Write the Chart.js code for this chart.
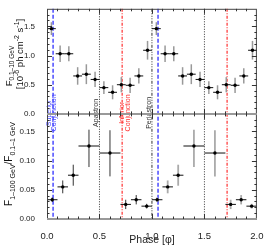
<!DOCTYPE html>
<html>
<head>
<meta charset="utf-8">
<script src="https://cdn.jsdelivr.net/npm/chart.js@4.4.1/dist/chart.umd.min.js"></script>
<style>
  html, body { margin: 0; padding: 0; background: #fff; }
</style>
</head>
<body>
<canvas id="phaseChart" width="267" height="246"></canvas>
<script>
// 0.1-10 GeV flux, 12 orbital phase bins (one cycle, drawn twice)
const fluxPhase = [0.042, 0.125, 0.208, 0.292, 0.375, 0.458, 0.542, 0.625, 0.708, 0.792, 0.875, 0.958];
const fluxHalfWidth = [0.042, 0.042, 0.042, 0.042, 0.042, 0.042, 0.042, 0.042, 0.042, 0.042, 0.042, 0.042];
const fluxValue = [1.46, 1.03, 1.03, 0.65, 0.68, 0.59, 0.45, 0.37, 0.50, 0.49, 0.65, 1.09];
const fluxErr = [0.11, 0.14, 0.13, 0.15, 0.17, 0.13, 0.11, 0.12, 0.13, 0.13, 0.13, 0.16];

// F(1-100 GeV) / F(0.1-1 GeV)
const ratioPhase = [0.05, 0.15, 0.25, 0.40, 0.60, 0.75, 0.85, 0.95];
const ratioHalfWidth = [0.05, 0.05, 0.05, 0.10, 0.10, 0.05, 0.05, 0.05];
const ratioValue = [0.033, 0.055, 0.075, 0.125, 0.113, 0.025, 0.033, 0.022];
const ratioErrLow = [0.004, 0.011, 0.018, 0.036, 0.040, 0.008, 0.008, 0.004];
const ratioErrHigh = [0.004, 0.011, 0.018, 0.028, 0.039, 0.008, 0.008, 0.004];

// orbital markers
const markerPhase = [0.058, 0.5, 0.716, 1.0, 1.058, 1.5, 1.716];
const markerKind = ['sup', 'apa', 'inf', 'peri', 'sup', 'apa', 'inf'];
const markerLabel = {
    sup: ['Superior', 'Conjunction'],
    apa: ['Apastron'],
    inf: ['Inferior', 'Conjunction'],
    peri: ['Periastron']
};

const FONT = "'Liberation Sans', Arial, sans-serif";

const lineStyle = {
    sup: { color: '#4a4aff', width: 1.5, dash: [4, 2], off: [-2.3, 3.2] },
    apa: { color: '#333', width: 1, dash: [1, 1.5], off: [-1] },
    inf: { color: '#ff3030', width: 1.2, dash: [3, 1.5, 1, 1.5], off: [2, 7.5] },
    peri: { color: '#333', width: 1, dash: [3, 1.5, 1, 1.5, 1, 1.5, 1, 1.5], off: [-1] }
};

const fluxPoints = [];
const ratioPoints = [];
for (let c = 0; c < 2; c++) {
    for (let i = 0; i < fluxPhase.length; i++) fluxPoints.push({ x: fluxPhase[i] + c, y: fluxValue[i] });
    for (let i = 0; i < ratioPhase.length; i++) ratioPoints.push({ x: ratioPhase[i] + c, y: ratioValue[i] });
}

function richText(ctx, parts, bx, cy, color) {
    ctx.save();
    ctx.translate(bx, cy);
    ctx.rotate(-Math.PI / 2);
    ctx.fillStyle = color;
    ctx.textAlign = 'left';
    ctx.textBaseline = 'alphabetic';
    let total = 0;
    parts.forEach(p => {
        ctx.font = p.size + 'px ' + FONT;
        p.w = ctx.measureText(p.t).width;
        total += p.w;
    });
    let x = -total / 2;
    parts.forEach(p => {
        ctx.font = p.size + 'px ' + FONT;
        ctx.fillText(p.t, x, p.dy || 0);
        x += p.w;
    });
    ctx.restore();
}

function line(ctx, x1, y1, x2, y2) {
    ctx.beginPath();
    ctx.moveTo(x1, y1);
    ctx.lineTo(x2, y2);
    ctx.stroke();
}

const panelPlugin = {
    id: 'panels',
    beforeDatasetsDraw(chart) {
        const { ctx, chartArea: a, scales: { x, yTop, yBot } } = chart;
        ctx.save();

        // phase markers across both panels
        markerPhase.forEach((p, i) => {
            const st = lineStyle[markerKind[i]];
            const px = x.getPixelForValue(p);
            ctx.strokeStyle = st.color;
            ctx.lineWidth = st.width;
            ctx.setLineDash(st.dash);
            line(ctx, px, a.top, px, a.bottom);
        });
        ctx.setLineDash([]);

        // marker labels (first occurrence of each kind)
        const seen = {};
        markerPhase.forEach((p, i) => {
            const k = markerKind[i];
            if (seen[k]) return;
            seen[k] = true;
            const st = lineStyle[k];
            const px = x.getPixelForValue(p);
            markerLabel[k].forEach((txt, j) => {
                richText(ctx, [{ t: txt, size: 7 }], px + st.off[j], yTop.bottom - 1, st.color);
            });
        });

        // error bars
        for (let c = 0; c < 2; c++) {
            for (let i = 0; i < fluxPhase.length; i++) {
                const px = x.getPixelForValue(fluxPhase[i] + c);
                const py = yTop.getPixelForValue(fluxValue[i]);
                ctx.strokeStyle = '#999';
                ctx.lineWidth = 1.5;
                line(ctx, px, yTop.getPixelForValue(fluxValue[i] - fluxErr[i]), px, yTop.getPixelForValue(fluxValue[i] + fluxErr[i]));
                ctx.strokeStyle = '#111';
                ctx.lineWidth = 1;
                line(ctx, x.getPixelForValue(fluxPhase[i] - fluxHalfWidth[i] + c), py, x.getPixelForValue(fluxPhase[i] + fluxHalfWidth[i] + c), py);
            }
            for (let i = 0; i < ratioPhase.length; i++) {
                const px = x.getPixelForValue(ratioPhase[i] + c);
                const py = yBot.getPixelForValue(ratioValue[i]);
                ctx.strokeStyle = c === 0 ? '#333' : '#aaa';
                ctx.lineWidth = c === 0 ? 1 : 1.8;
                line(ctx, px, yBot.getPixelForValue(ratioValue[i] - ratioErrLow[i]), px, yBot.getPixelForValue(ratioValue[i] + ratioErrHigh[i]));
                ctx.strokeStyle = '#111';
                ctx.lineWidth = 1;
                line(ctx, x.getPixelForValue(ratioPhase[i] - ratioHalfWidth[i] + c), py, x.getPixelForValue(ratioPhase[i] + ratioHalfWidth[i] + c), py);
            }
        }
        ctx.restore();
    },
    afterDatasetsDraw(chart) {
        const { ctx, chartArea: a, scales: { x, yTop, yBot } } = chart;
        ctx.save();

        // frame
        ctx.strokeStyle = '#444';
        ctx.lineWidth = 1;
        ctx.strokeRect(a.left + 0.5, a.top + 0.5, a.right - a.left - 1, a.bottom - a.top);

        // zero lines
        ctx.strokeStyle = '#999';
        ctx.lineWidth = 2;
        line(ctx, a.left, yTop.getPixelForValue(0), a.right, yTop.getPixelForValue(0));
        line(ctx, a.left, yBot.getPixelForValue(0), a.right, yBot.getPixelForValue(0));

        // inward ticks
        ctx.strokeStyle = '#333';
        ctx.lineWidth = 1;
        const edges = [[yTop.top, 1], [yTop.bottom, -1], [yBot.top, 1], [yBot.bottom, -1]];
        for (let k = 1; k < 20; k++) {
            const px = Math.round(x.getPixelForValue(k / 10)) + 0.5;
            const len = k % 5 === 0 ? 5 : 2.5;
            edges.forEach(([ey, d]) => line(ctx, px, ey, px, ey + d * len));
        }
        const yAxes = [[yTop, 0.1, 5, 1.8], [yBot, 0.01, 5, 0.18]];
        yAxes.forEach(([s, step, every, max]) => {
            for (let k = 1; k * step < max - 1e-9; k++) {
                const py = Math.round(s.getPixelForValue(k * step)) + 0.5;
                const len = k % every === 0 ? 5 : 2.5;
                line(ctx, a.left, py, a.left + len, py);
                line(ctx, a.right, py, a.right - len, py);
            }
        });

        // y axis titles
        const top = [{ t: 'F', size: 9.5 }, { t: '0.1\u201310 GeV', size: 6.5, dy: 2.5 }];
        richText(ctx, top, 11.5, 66, '#111');
        const unit = [
            { t: '[10', size: 9.5 }, { t: '-6', size: 7, dy: -3.5 },
            { t: ' ph cm', size: 9.5 }, { t: '-2', size: 7, dy: -3.5 },
            { t: ' s', size: 9.5 }, { t: '-1', size: 7, dy: -3.5 },
            { t: ']', size: 9.5 }
        ];
        richText(ctx, unit, 22.5, 54, '#111');
        const ratio = [
            { t: 'F', size: 10 }, { t: '1\u2013100 GeV', size: 7, dy: 2.5 },
            { t: '/', size: 10 },
            { t: 'F', size: 10 }, { t: '0.1\u20131 GeV', size: 7, dy: 2.5 }
        ];
        richText(ctx, ratio, 12, 164, '#111');
        ctx.restore();
    }
};

const tickFont = { family: FONT, size: 8 };

new Chart(document.getElementById('phaseChart'), {
    type: 'scatter',
    data: {
        datasets: [
            {
                label: 'flux', data: fluxPoints, yAxisID: 'yTop',
                pointRadius: 1.7, pointBackgroundColor: '#000', pointBorderWidth: 0
            },
            {
                label: 'ratio', data: ratioPoints, yAxisID: 'yBot',
                pointRadius: 1.7, pointBackgroundColor: '#000', pointBorderWidth: 0
            }
        ]
    },
    options: {
        responsive: false,
        animation: false,
        layout: { padding: { top: 8, right: 10, bottom: 0, left: 0 } },
        plugins: { legend: { display: false }, tooltip: { enabled: false } },
        scales: {
            x: {
                type: 'linear', min: 0, max: 2,
                grid: { display: false }, border: { display: false },
                ticks: {
                    stepSize: 0.5, maxRotation: 0, padding: 3.5, color: '#222',
                    font: { family: FONT, size: 9.5 },
                    callback: v => v.toFixed(1)
                },
                title: {
                    display: true, text: 'Phase [\u03c6]', color: '#222',
                    font: { family: FONT, size: 10.5 }, padding: { top: 0, bottom: 0 }
                },
                afterFit: s => { s.height = 27; }
            },
            yBot: {
                type: 'linear', position: 'left', stack: 'panels', stackWeight: 1,
                min: 0, max: 0.18,
                grid: { display: false }, border: { display: false },
                ticks: {
                    stepSize: 0.05, includeBounds: false, padding: 4, color: '#222',
                    font: tickFont, callback: v => v.toFixed(2)
                },
                afterFit: s => { s.width = 47; }
            },
            yTop: {
                type: 'linear', position: 'left', stack: 'panels', stackWeight: 1,
                min: 0, max: 1.8,
                grid: { display: false }, border: { display: false },
                ticks: {
                    stepSize: 0.5, includeBounds: false, padding: 4, color: '#222',
                    font: tickFont, callback: v => v.toFixed(1)
                },
                afterFit: s => { s.width = 47; }
            }
        }
    },
    plugins: [panelPlugin]
});
</script>
</body>
</html>
